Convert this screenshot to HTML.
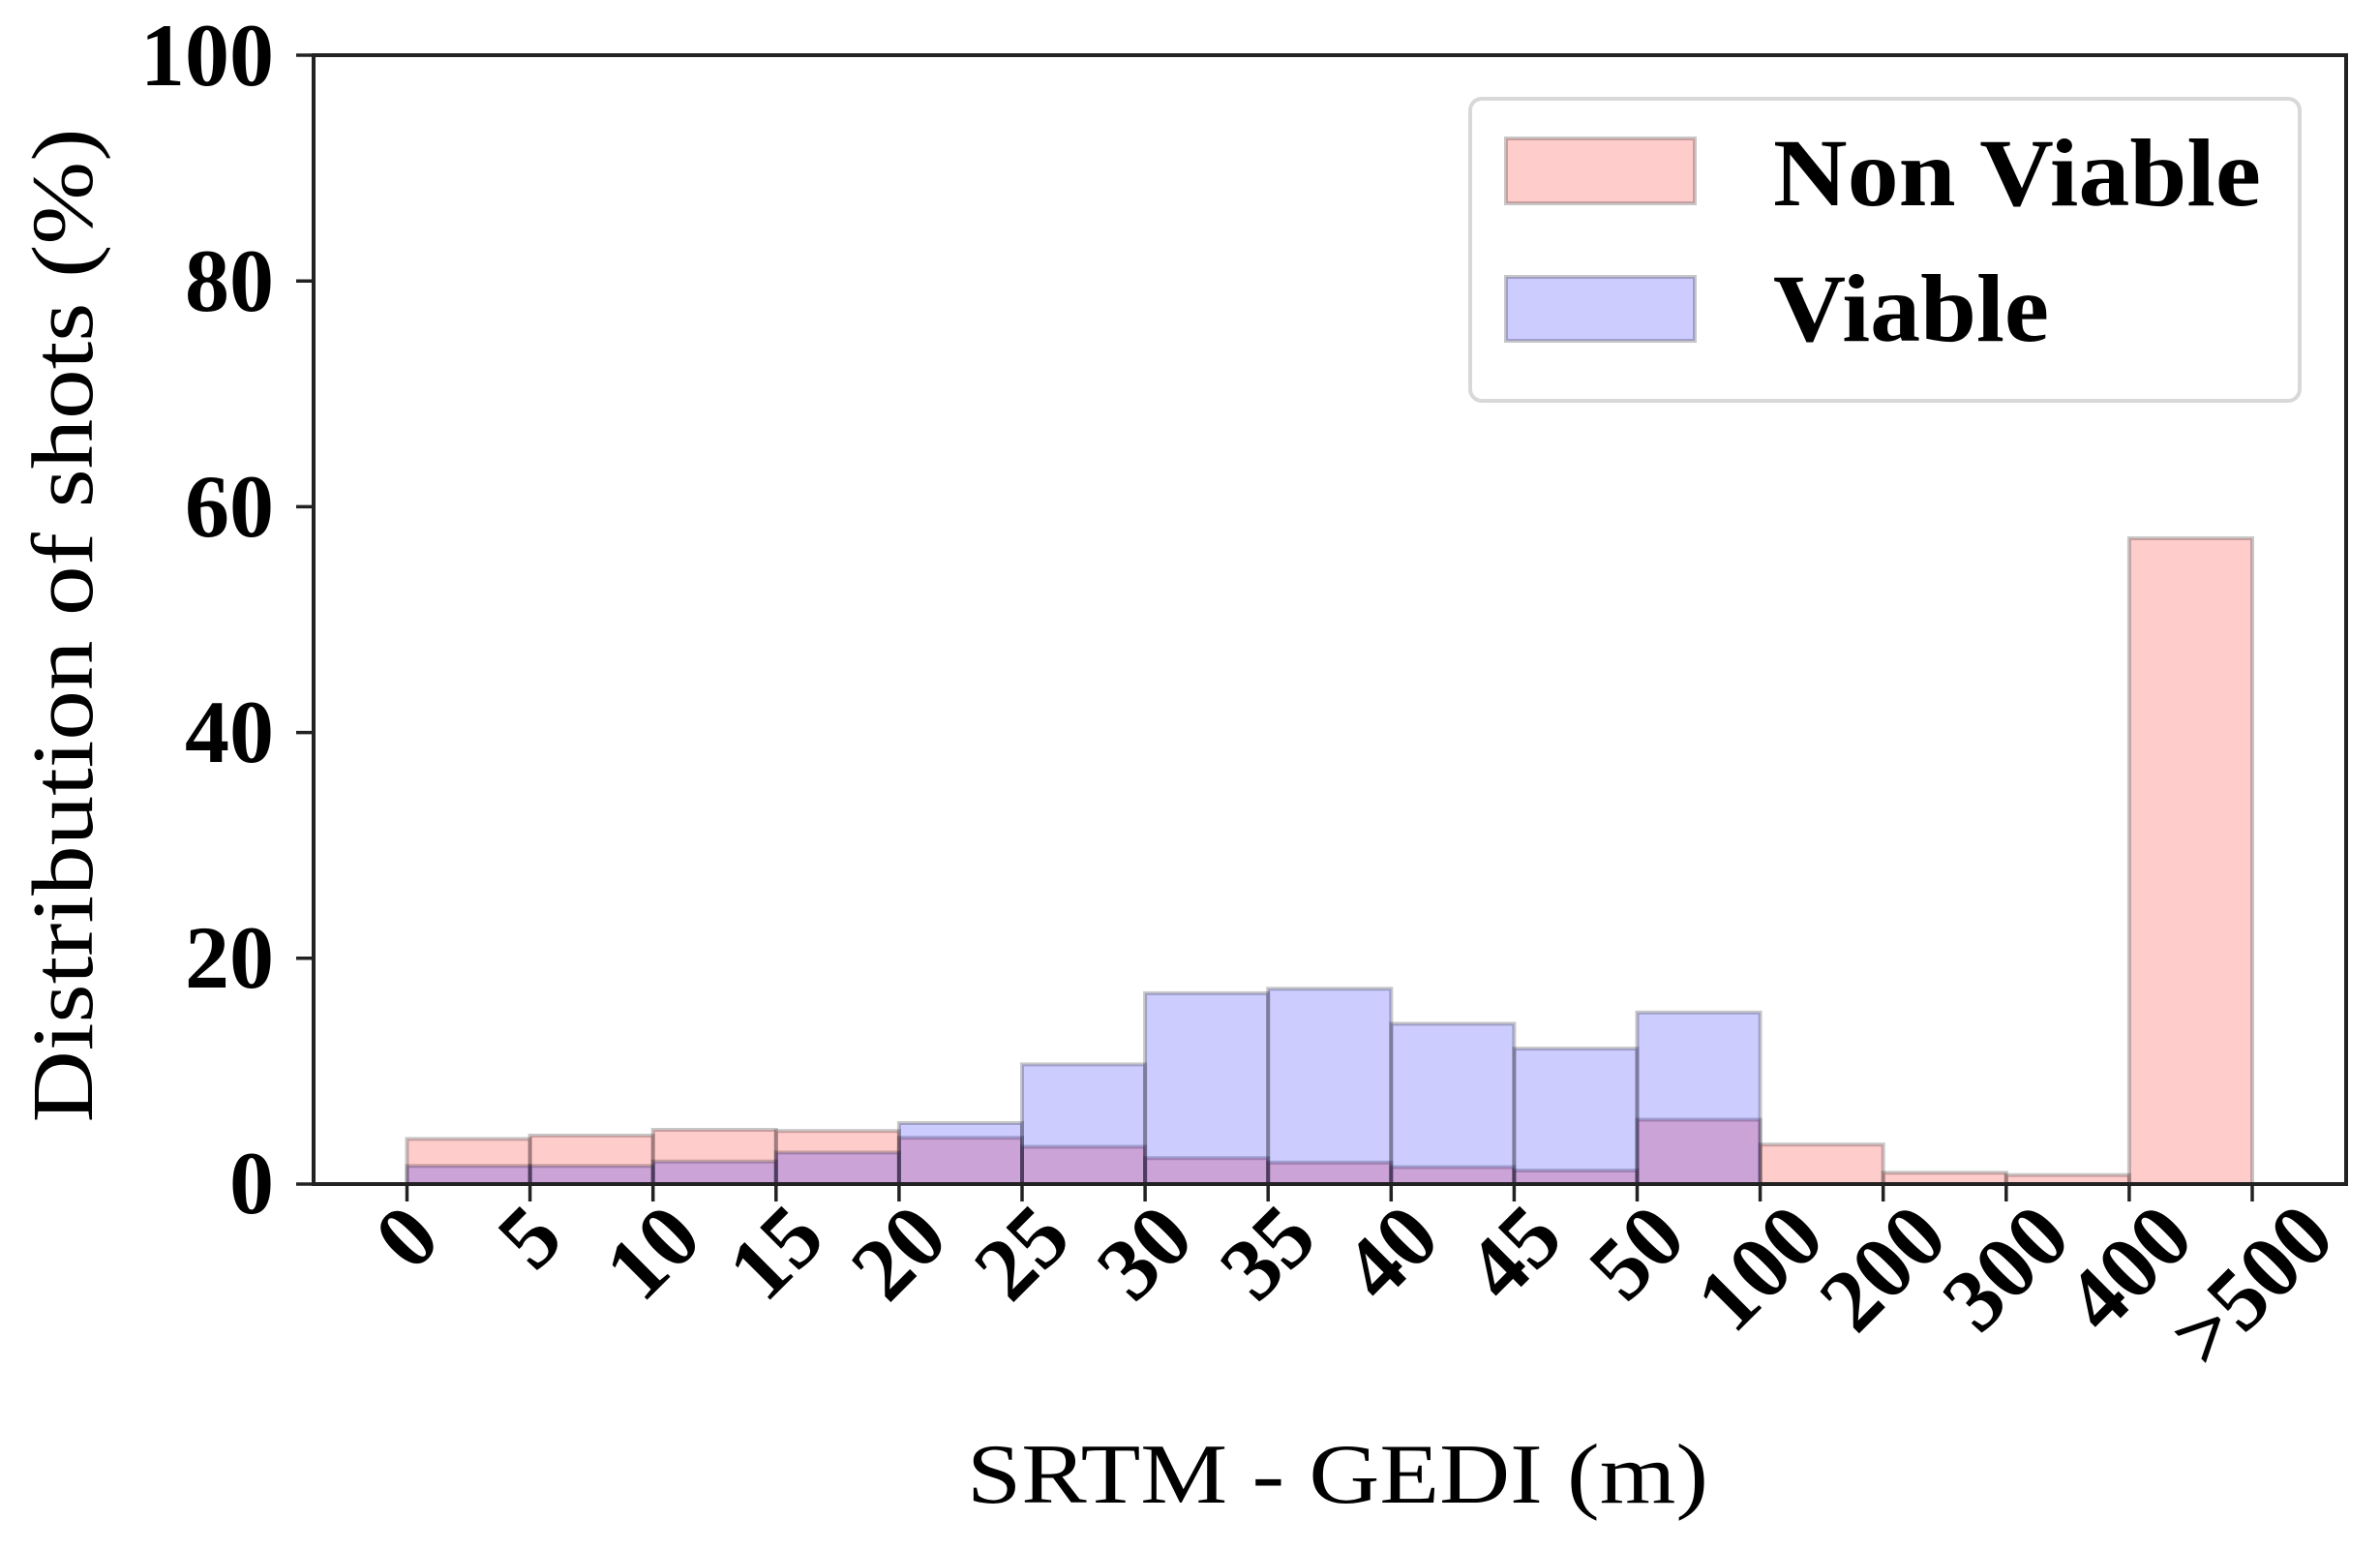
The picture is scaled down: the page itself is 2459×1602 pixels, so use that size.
<!DOCTYPE html>
<html><head><meta charset="utf-8"><style>html,body{margin:0;padding:0;background:#fff}svg{display:block}</style></head>
<body>
<svg width="2459" height="1602" viewBox="0 0 2459 1602" xmlns="http://www.w3.org/2000/svg" font-family="Liberation Serif, serif">
<rect width="2459" height="1602" fill="#fff"/>
<g stroke="rgba(0,0,0,0.22)" stroke-width="4">
<g fill="rgba(255,0,0,0.2)">
<rect x="420.5" y="1176.4" width="127.1" height="46.6"/>
<rect x="547.6" y="1172.9" width="127.1" height="50.1"/>
<rect x="674.7" y="1167.0" width="127.1" height="56.0"/>
<rect x="801.8" y="1168.2" width="127.1" height="54.8"/>
<rect x="928.9" y="1175.2" width="127.1" height="47.8"/>
<rect x="1056" y="1184.5" width="127.1" height="38.5"/>
<rect x="1183.1" y="1196.2" width="127.1" height="26.8"/>
<rect x="1310.2" y="1200.8" width="127.1" height="22.2"/>
<rect x="1437.3" y="1205.5" width="127.1" height="17.5"/>
<rect x="1564.4" y="1209.0" width="127.1" height="14.0"/>
<rect x="1691.5" y="1156.5" width="127.1" height="66.5"/>
<rect x="1818.6" y="1182.2" width="127.1" height="40.8"/>
<rect x="1945.7" y="1211.3" width="127.1" height="11.7"/>
<rect x="2072.8" y="1213.7" width="127.1" height="9.3"/>
<rect x="2199.9" y="556.0" width="127.1" height="667"/>
</g>
<g fill="rgba(0,0,255,0.2)">
<rect x="420.5" y="1204.3" width="127.1" height="18.7"/>
<rect x="547.6" y="1204.3" width="127.1" height="18.7"/>
<rect x="674.7" y="1199.7" width="127.1" height="23.3"/>
<rect x="801.8" y="1190.4" width="127.1" height="32.6"/>
<rect x="928.9" y="1160.0" width="127.1" height="63.0"/>
<rect x="1056" y="1099.4" width="127.1" height="123.6"/>
<rect x="1183.1" y="1025.9" width="127.1" height="197.1"/>
<rect x="1310.2" y="1021.3" width="127.1" height="201.7"/>
<rect x="1437.3" y="1057.4" width="127.1" height="165.6"/>
<rect x="1564.4" y="1083.1" width="127.1" height="139.9"/>
<rect x="1691.5" y="1045.8" width="127.1" height="177.2"/>
</g>
</g>
<rect x="324" y="57" width="2100" height="1166" fill="none" stroke="#222" stroke-width="4"/>
<g stroke="#222" stroke-width="3.5">
<line x1="306" y1="1223" x2="324" y2="1223"/>
<line x1="306" y1="989.8" x2="324" y2="989.8"/>
<line x1="306" y1="756.6" x2="324" y2="756.6"/>
<line x1="306" y1="523.4" x2="324" y2="523.4"/>
<line x1="306" y1="290.2" x2="324" y2="290.2"/>
<line x1="306" y1="57" x2="324" y2="57"/>
<line x1="420.5" y1="1223" x2="420.5" y2="1241"/>
<line x1="547.6" y1="1223" x2="547.6" y2="1241"/>
<line x1="674.7" y1="1223" x2="674.7" y2="1241"/>
<line x1="801.8" y1="1223" x2="801.8" y2="1241"/>
<line x1="928.9" y1="1223" x2="928.9" y2="1241"/>
<line x1="1056" y1="1223" x2="1056" y2="1241"/>
<line x1="1183.1" y1="1223" x2="1183.1" y2="1241"/>
<line x1="1310.2" y1="1223" x2="1310.2" y2="1241"/>
<line x1="1437.3" y1="1223" x2="1437.3" y2="1241"/>
<line x1="1564.4" y1="1223" x2="1564.4" y2="1241"/>
<line x1="1691.5" y1="1223" x2="1691.5" y2="1241"/>
<line x1="1818.6" y1="1223" x2="1818.6" y2="1241"/>
<line x1="1945.7" y1="1223" x2="1945.7" y2="1241"/>
<line x1="2072.8" y1="1223" x2="2072.8" y2="1241"/>
<line x1="2199.9" y1="1223" x2="2199.9" y2="1241"/>
<line x1="2327" y1="1223" x2="2327" y2="1241"/>
</g>
<g font-weight="bold" font-size="92" text-anchor="end" fill="#000">
<text x="283" y="1253">0</text>
<text x="283" y="1020">20</text>
<text x="283" y="787">40</text>
<text x="283" y="554">60</text>
<text x="283" y="321">80</text>
<text x="283" y="88">100</text>
</g>
<g font-weight="bold" font-size="92" text-anchor="middle" fill="#000">
<text transform="translate(420.5,1278) rotate(-45)" dy="30">0</text>
<text transform="translate(547.6,1278) rotate(-45)" dy="30">5</text>
<text transform="translate(674.7,1294) rotate(-45)" dy="30">10</text>
<text transform="translate(801.8,1294) rotate(-45)" dy="30">15</text>
<text transform="translate(928.9,1294) rotate(-45)" dy="30">20</text>
<text transform="translate(1056,1294) rotate(-45)" dy="30">25</text>
<text transform="translate(1183.1,1294) rotate(-45)" dy="30">30</text>
<text transform="translate(1310.2,1294) rotate(-45)" dy="30">35</text>
<text transform="translate(1437.3,1294) rotate(-45)" dy="30">40</text>
<text transform="translate(1564.4,1294) rotate(-45)" dy="30">45</text>
<text transform="translate(1691.5,1294) rotate(-45)" dy="30">50</text>
<text transform="translate(1818.6,1310) rotate(-45)" dy="30">100</text>
<text transform="translate(1945.7,1310) rotate(-45)" dy="30">200</text>
<text transform="translate(2072.8,1310) rotate(-45)" dy="30">300</text>
<text transform="translate(2199.9,1310) rotate(-45)" dy="30">400</text>
<text transform="translate(2327,1328) rotate(-45)" dy="30">&gt;500</text>
</g>
<text x="1382" y="1552" font-size="88" text-anchor="middle" textLength="766" lengthAdjust="spacingAndGlyphs" fill="#000">SRTM - GEDI (m)</text>
<text transform="translate(95,646) rotate(-90)" font-size="90" text-anchor="middle" textLength="1027" lengthAdjust="spacingAndGlyphs" fill="#000">Distribution of shots (%)</text>
<rect x="1519" y="102" width="857" height="312" rx="12" fill="#fff" stroke="#d8d8d8" stroke-width="4"/>
<rect x="1556" y="143" width="195" height="67" fill="rgba(255,0,0,0.2)" stroke="rgba(0,0,0,0.22)" stroke-width="4"/>
<rect x="1556" y="286" width="195" height="66" fill="rgba(0,0,255,0.2)" stroke="rgba(0,0,0,0.22)" stroke-width="4"/>
<text x="1832" y="212" font-size="100" font-weight="bold" textLength="504" lengthAdjust="spacingAndGlyphs" fill="#000">Non Viable</text>
<text x="1832" y="352" font-size="100" font-weight="bold" textLength="285" lengthAdjust="spacingAndGlyphs" fill="#000">Viable</text>
</svg>
</body></html>
